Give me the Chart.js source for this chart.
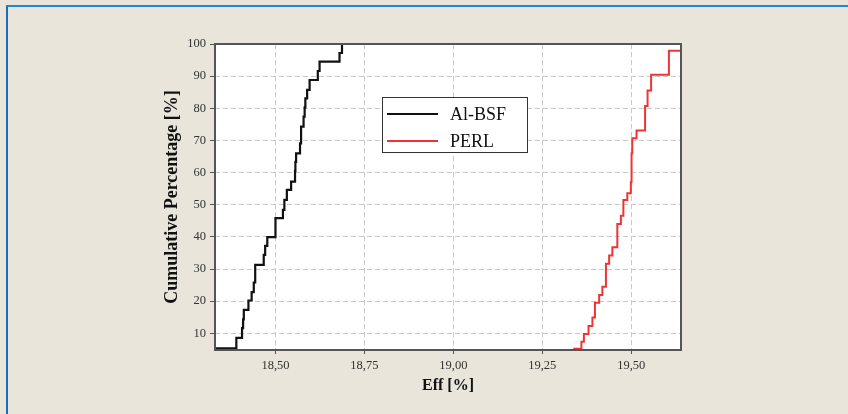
<!DOCTYPE html>
<html>
<head>
<meta charset="utf-8">
<title>Cumulative efficiency distribution</title>
<script src="https://cdn.jsdelivr.net/npm/chart.js@4.4.1/dist/chart.umd.min.js"></script>
<style>
  html, body { margin: 0; padding: 0; background: #e9e5da; overflow: hidden; }
  .frame {
    position: absolute; left: 6px; top: 5px; width: 900px; height: 500px;
    border-top: 2px solid #2286d8; border-left: 2px solid #1a6cbc;
  }
  .chart-box { position: absolute; left: 0; top: 0; width: 848px; height: 414px; }
</style>
</head>
<body>
<div class="frame"></div>
<div class="chart-box"><canvas id="effChart"></canvas></div>
<script>
// cumulative distribution of cell efficiency, one step per cell
const alBsfEff = [18.33, 18.390, 18.406, 18.409, 18.411, 18.424, 18.433, 18.439, 18.443, 18.467, 18.471,
  18.477, 18.500, 18.521, 18.525, 18.532, 18.544, 18.555, 18.556, 18.558, 18.569, 18.572, 18.579,
  18.582, 18.584, 18.589, 18.596, 18.619, 18.624, 18.680, 18.687];
const alBsfCum = [5.3, 8.6, 11.6, 14.3, 17.3, 20.2, 22.8, 25.8, 31.3, 34.4, 37.2,
  39.9, 45.8, 48.4, 51.5, 54.6, 57.2, 60.5, 63.3, 66.0, 69.1, 74.3, 77.4,
  80.3, 83.1, 85.7, 88.8, 91.6, 94.5, 97.2, 100];

const perlEff = [19.337, 19.360, 19.367, 19.380, 19.391, 19.398, 19.410, 19.419, 19.429, 19.438, 19.447,
  19.461, 19.471, 19.478, 19.489, 19.499, 19.501, 19.503, 19.515, 19.539, 19.546, 19.556, 19.606, 19.64];
const perlCum = [5.2, 7.4, 9.8, 12.3, 14.9, 19.5, 21.9, 24.5, 31.6, 34.2, 36.8,
  44.0, 46.6, 51.5, 53.6, 57.0, 66.0, 70.7, 73.1, 80.7, 85.5, 90.4, 97.9, 100];

const seriesNames = ['Al-BSF', 'PERL'];
const xTickValues = [18.50, 18.75, 19.00, 19.25, 19.50];
const yTickValues = [10, 20, 30, 40, 50, 60, 70, 80, 90, 100];

Chart.defaults.font.family = "'Liberation Serif', 'DejaVu Serif', serif";
Chart.defaults.color = '#333';

function toPoints(xs, ys) {
  return xs.map((x, i) => ({ x: x, y: ys[i] }));
}

// white plot area, box around it and the legend in the middle
const plotFrame = {
  id: 'plotFrame',
  beforeDatasetsDraw(chart) {
    const a = chart.chartArea, ctx = chart.ctx;
    ctx.save();
    ctx.globalCompositeOperation = 'destination-over';
    ctx.fillStyle = '#ffffff';
    ctx.fillRect(a.left, a.top, a.right - a.left, a.bottom - a.top);
    ctx.restore();
  },
  afterDatasetsDraw(chart) {
    const a = chart.chartArea, ctx = chart.ctx;
    ctx.save();
    ctx.strokeStyle = '#555';
    ctx.lineWidth = 2;
    ctx.strokeRect(a.left, a.top, a.right - a.left, a.bottom - a.top);

    const bx = a.left + 167, by = a.top + 53, bw = 145, bh = 55;
    ctx.fillStyle = '#ffffff';
    ctx.fillRect(bx, by, bw, bh);
    ctx.strokeStyle = '#333';
    ctx.lineWidth = 1;
    ctx.strokeRect(bx + 0.5, by + 0.5, bw, bh);
    ctx.font = "18px 'Liberation Serif', serif";
    ctx.textBaseline = 'middle';
    chart.data.datasets.forEach((ds, i) => {
      const y = by + 17 + i * 27;
      ctx.strokeStyle = ds.borderColor;
      ctx.lineWidth = 2;
      ctx.beginPath();
      ctx.moveTo(bx + 5, y);
      ctx.lineTo(bx + 56, y);
      ctx.stroke();
      ctx.fillStyle = '#111';
      ctx.fillText(ds.label, bx + 68, y + 1);
    });
    ctx.restore();
  }
};

new Chart(document.getElementById('effChart'), {
  type: 'line',
  data: {
    datasets: [
      {
        label: seriesNames[0],
        data: toPoints(alBsfEff, alBsfCum),
        borderColor: '#111111',
        borderWidth: 2.2,
        stepped: 'before',   // hold previous level, then rise at the new x
        pointRadius: 0,
        fill: false
      },
      {
        label: seriesNames[1],
        data: toPoints(perlEff, perlCum),
        borderColor: '#ee3535',
        borderWidth: 2,
        stepped: 'before',
        pointRadius: 0,
        fill: false
      }
    ]
  },
  options: {
    responsive: true,
    maintainAspectRatio: false,
    animation: false,
    events: [],
    layout: { padding: { left: 150, right: 167, top: 44, bottom: 14 } },
    plugins: {
      legend: { display: false },
      tooltip: { enabled: false }
    },
    scales: {
      x: {
        type: 'linear',
        min: 18.33,
        max: 19.64,
        afterBuildTicks: (scale) => { scale.ticks = xTickValues.map(v => ({ value: v })); },
        afterFit: (scale) => { scale.height = 50; },
        border: { display: false, dash: [5, 3] },
        grid: { color: '#c9c9c9', lineWidth: 1, tickLength: 4, tickColor: '#555' },
        ticks: {
          padding: 4,
          color: '#333',
          font: { size: 12.5 },
          callback: (v) => Number(v).toFixed(2).replace('.', ',')
        },
        title: {
          display: true,
          text: 'Eff [%]',
          color: '#111',
          font: { size: 16, weight: 'bold' },
          padding: { top: 0, bottom: 5 }
        }
      },
      y: {
        type: 'linear',
        min: 4.8,
        max: 100,
        afterBuildTicks: (scale) => { scale.ticks = yTickValues.map(v => ({ value: v })); },
        afterFit: (scale) => { scale.width = 65; },
        border: { display: false, dash: [5, 3] },
        grid: { color: '#c9c9c9', lineWidth: 1, tickLength: 5, tickColor: '#555' },
        ticks: {
          padding: 4,
          color: '#333',
          font: { size: 12.5 }
        },
        title: {
          display: true,
          text: 'Cumulative Percentage [%]',
          color: '#111',
          font: { size: 18, weight: 'bold' },
          padding: { top: 12, bottom: 0 }
        }
      }
    }
  },
  plugins: [plotFrame]
});
</script>
</body>
</html>
